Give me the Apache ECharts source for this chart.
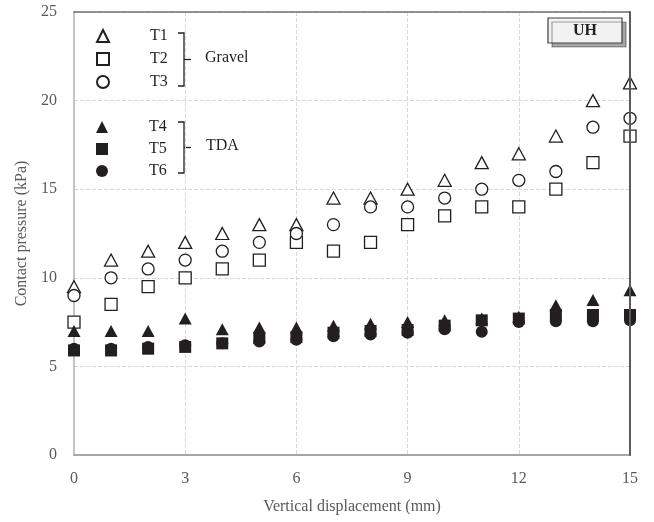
<!DOCTYPE html>
<html>
<head>
<meta charset="utf-8">
<script src="https://cdn.jsdelivr.net/npm/echarts@6/dist/echarts.min.js"></script>
<style>html,body{margin:0;padding:0;background:#fff;}#c{width:654px;height:522px;}</style>
</head>
<body>
<div id="c"></div>
<script>
var displacement = [0,1,2,3,4,5,6,7,8,9,10,11,12,13,14,15];
var T1 = [9.5,11,11.5,12,12.5,13,13,14.5,14.5,15,15.5,16.5,17,18,20,21];
var T2 = [7.5,8.5,9.5,10,10.5,11,12,11.5,12,13,13.5,14,14,15,16.5,18];
var T3 = [9,10,10.5,11,11.5,12,12.5,13,14,14,14.5,15,15.5,16,18.5,19];
var T4 = [7,7,7,7.7,7.1,7.2,7.2,7.3,7.4,7.5,7.6,7.7,7.8,8.45,8.75,9.3];
var T5 = [5.9,5.9,6.0,6.1,6.3,6.6,6.65,6.9,7.0,7.05,7.3,7.6,7.7,7.9,7.9,7.9];
var T6 = [6.0,6.0,6.1,6.2,6.3,6.4,6.5,6.7,6.8,6.9,7.1,6.95,7.5,7.55,7.55,7.6];
var xTicks = {min:0, max:15, interval:3};
var yTicks = {min:0, max:25, interval:5};

var FONT = 'Liberation Serif';
var INK = '#231f20';
function pairs(v){ return displacement.map(function(x,i){ return [x, v[i]]; }); }
function openS(name, sym, data){
  return {name:name, type:'scatter', symbol:sym, symbolSize: sym==='triangle'?[13,12]:12,
    data:pairs(data), itemStyle:{color:'#ffffff', borderColor:INK, borderWidth:1.3, opacity:1},
    emphasis:{disabled:true}};
}
function fillS(name, sym, data){
  return {name:name, type:'scatter', symbol:sym, symbolSize: sym==='triangle'?[13,12]:12,
    data:pairs(data), itemStyle:{color:INK, borderColor:INK, borderWidth:0, opacity:1},
    emphasis:{disabled:true}};
}
var axisText = {color:'#595959', fontFamily:FONT, fontSize:16};
var legendCommon = {orient:'vertical', left:91, itemWidth:12, itemHeight:12,
  selectedMode:false,
  textStyle:{color:INK, fontFamily:FONT, fontSize:16, lineHeight:16, padding:[0,0,0,36]}};

var chart = echarts.init(document.getElementById('c'));
chart.setOption({
  animation:false,
  backgroundColor:'#ffffff',
  grid:{left:74, right:24, top:12, bottom:67},
  xAxis:[{
    type:'value', min:xTicks.min, max:xTicks.max, interval:xTicks.interval,
    axisLine:{onZero:false, lineStyle:{color:'#a6a6a6', width:2}}, axisTick:{show:false},
    splitLine:{show:true, lineStyle:{color:'#d9d9d9', type:'dashed', width:1}},
    axisLabel:Object.assign({margin:16}, axisText),
    name:'Vertical displacement (mm)', nameLocation:'middle', nameGap:44, nameTextStyle:axisText
  },{
    type:'value', position:'top', min:xTicks.min, max:xTicks.max,
    axisLine:{show:true, onZero:false, lineStyle:{color:'#6e6e6e', width:1.5}}, axisTick:{show:false},
    axisLabel:{show:false}, splitLine:{show:false}
  }],
  yAxis:[{
    type:'value', min:yTicks.min, max:yTicks.max, interval:yTicks.interval,
    axisLine:{show:true, onZero:false, lineStyle:{color:'#c4c4c4', width:2}}, axisTick:{show:false},
    splitLine:{show:true, lineStyle:{color:'#d9d9d9', type:'dashed', width:1}},
    axisLabel:Object.assign({margin:17}, axisText),
    name:'Contact pressure (kPa)', nameLocation:'middle', nameGap:41, nameRotate:90, nameTextStyle:axisText
  },{
    type:'value', position:'right', min:yTicks.min, max:yTicks.max, z:10,
    axisLine:{show:true, onZero:false, lineStyle:{color:'#5a5a5a', width:2}}, axisTick:{show:false},
    axisLabel:{show:false}, splitLine:{show:false}
  }],
  legend:[
    Object.assign({top:23, itemGap:7, data:['T1','T2','T3']}, legendCommon),
    Object.assign({top:114, itemGap:6, data:['T4','T5','T6']}, legendCommon)
  ],
  series:[
    openS('T1','triangle',T1),
    openS('T2','rect',T2),
    openS('T3','circle',T3),
    fillS('T4','triangle',T4),
    fillS('T5','rect',T5),
    fillS('T6','circle',T6)
  ],
  graphic:[
    {type:'polyline', shape:{points:[[178,33],[184,33],[184,86],[178,86]]}, style:{stroke:INK, lineWidth:1.3, fill:null}},
    {type:'line', shape:{x1:184,y1:59.5,x2:191,y2:59.5}, style:{stroke:INK, lineWidth:1.3}},
    {type:'text', left:205, top:50, style:{text:'Gravel', fill:INK, font:'16px "Liberation Serif"'}},
    {type:'polyline', shape:{points:[[178,122],[184,122],[184,173],[178,173]]}, style:{stroke:INK, lineWidth:1.3, fill:null}},
    {type:'line', shape:{x1:184,y1:147.5,x2:191,y2:147.5}, style:{stroke:INK, lineWidth:1.3}},
    {type:'text', left:206, top:138, style:{text:'TDA', fill:INK, font:'16px "Liberation Serif"'}},
    {type:'rect', shape:{x:548,y:18,width:74,height:25}, z:20,
      style:{fill:'#f2f2f2', stroke:'#404040', lineWidth:1.2, shadowColor:'rgba(0,0,0,0.35)', shadowOffsetX:4, shadowOffsetY:4, shadowBlur:0}},
    {type:'text', x:585, y:31, z:21, style:{text:'UH', fill:INK, font:'bold 16px "Liberation Serif"', textAlign:'center', textVerticalAlign:'middle'}}
  ]
});
</script>
</body>
</html>
